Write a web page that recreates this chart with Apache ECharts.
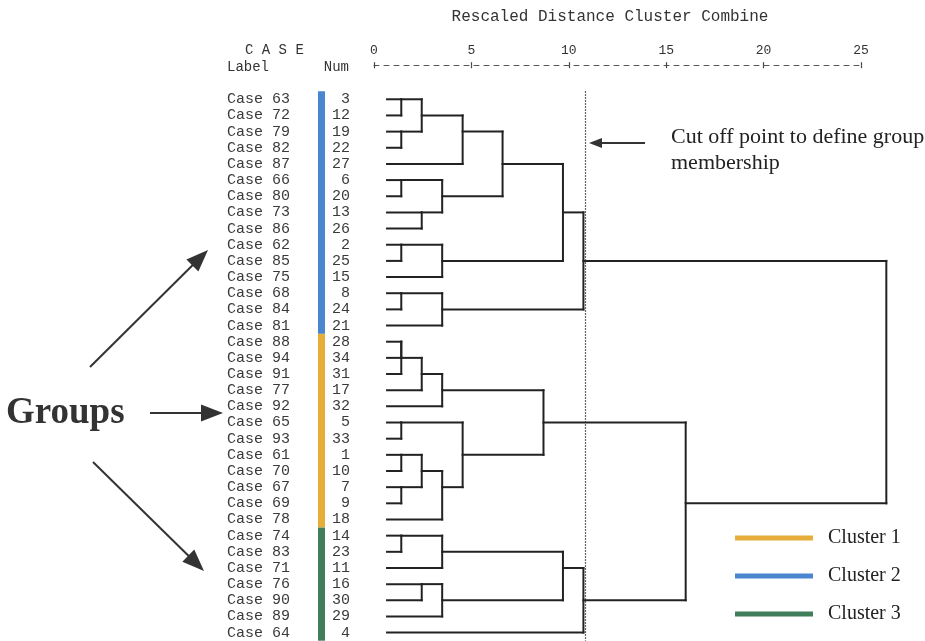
<!DOCTYPE html>
<html><head><meta charset="utf-8">
<script src="https://cdn.jsdelivr.net/npm/echarts@6/dist/echarts.min.js"></script>
<style>html,body{margin:0;padding:0;background:#fff}#c{width:925px;height:641px}</style>
</head><body><div id="c"></div>
<script>
// ---------- data ----------
const caseLabels = ['Case 63','Case 72','Case 79','Case 82','Case 87','Case 66','Case 80','Case 73','Case 86','Case 62','Case 85','Case 75','Case 68','Case 84','Case 81',
  'Case 88','Case 94','Case 91','Case 77','Case 92','Case 65','Case 93','Case 61','Case 70','Case 67','Case 69','Case 78',
  'Case 74','Case 83','Case 71','Case 76','Case 90','Case 89','Case 64'];
const caseNums = ['3','12','19','22','27','6','20','13','26','2','25','15','8','24','21',
  '28','34','31','17','32','5','33','1','10','7','9','18',
  '14','23','11','16','30','29','4'];
const clusterNames = ['Cluster 1','Cluster 2','Cluster 3'];
const clusterColors = ['#e6ad3a','#4a86cf','#3f7e59'];
const clusterFirstRow = [15, 0, 27];
const clusterLastRow = [26, 14, 33];
// merges: [childA, childB, rescaled distance]; leaves are row indices 0..33, merge k creates node 34+k
const merges = [
  [0,1,1.4],[2,3,1.4],[34,35,2.45],[36,4,4.55],[5,6,1.4],[7,8,2.45],[38,39,3.5],[37,40,6.6],
  [9,10,1.4],[42,11,3.5],[41,43,9.7],[12,13,1.4],[45,14,3.5],[44,46,10.75],
  [15,16,1.4],[48,17,1.4],[49,18,2.45],[50,19,3.5],[20,21,1.4],[22,23,1.4],[24,25,1.4],[53,54,2.45],
  [55,26,3.5],[52,56,4.55],[51,57,8.7],
  [27,28,1.4],[59,29,3.5],[30,31,2.45],[61,32,3.5],[60,62,9.7],[63,33,10.75],
  [58,64,16.0],[47,65,26.3]
];
const leafStart = 0.67;
const cutOff = 10.83;
const tickValues = [0,5,10,15,20,25];

// ---------- build dendrogram segments ----------
const nLeaf = caseLabels.length;
const pos = [], hgt = [];
for (let i = 0; i < nLeaf; i++) { pos[i] = i; hgt[i] = leafStart; }
const segs = [];
merges.forEach(function (m, k) {
  const a = m[0], b = m[1], d = m[2], id = nLeaf + k;
  segs.push([hgt[a], pos[a], d, pos[a]]);
  segs.push([hgt[b], pos[b], d, pos[b]]);
  segs.push([d, pos[a], d, pos[b]]);
  pos[id] = Math.floor((pos[a] + pos[b]) / 2);
  hgt[id] = d;
});

const mono = 'Liberation Mono';
const serif = 'Liberation Serif';
const ink = '#222';

function arrow(x1, y1, x2, y2, head, w, lw) {
  const ang = Math.atan2(y2 - y1, x2 - x1);
  const bx = x2 - head * Math.cos(ang), by = y2 - head * Math.sin(ang);
  const px = -Math.sin(ang) * w / 2, py = Math.cos(ang) * w / 2;
  return [
    {type: 'line', shape: {x1: x1, y1: y1, x2: bx + 2 * Math.cos(ang), y2: by + 2 * Math.sin(ang)}, style: {stroke: '#333', lineWidth: lw}},
    {type: 'polygon', shape: {points: [[x2, y2], [bx + px, by + py], [bx - px, by - py]]}, style: {fill: '#333'}}
  ];
}

const chart = echarts.init(document.getElementById('c'), null, {renderer: 'canvas'});

const stripSeries = clusterNames.map(function (name, ci) {
  return {
    type: 'custom', name: name, coordinateSystem: 'cartesian2d', clip: false,
    itemStyle: {color: clusterColors[ci]},
    data: [[0, clusterFirstRow[ci], clusterLastRow[ci]]],
    renderItem: function (params, api) {
      const t = api.coord([0, api.value(1)]);
      const b = api.coord([0, api.value(2)]);
      const band = api.size([0, 1])[1];
      return {type: 'rect', shape: {x: t[0] - 56, y: t[1] - band / 2, width: 7, height: b[1] - t[1] + band},
        style: {fill: clusterColors[ci]}};
    }
  };
});

const graphics = [
  {type: 'text', x: 610, y: 17, style: {text: 'Rescaled Distance Cluster Combine', font: '16px "' + mono + '"', fill: '#333', textAlign: 'center', textVerticalAlign: 'middle'}},
  {type: 'text', x: 245, y: 50, style: {text: 'C A S E', font: '14px "' + mono + '"', fill: '#333', textAlign: 'left', textVerticalAlign: 'middle'}},
  {type: 'text', x: 227, y: 67, style: {text: 'Label', font: '14px "' + mono + '"', fill: '#333', textAlign: 'left', textVerticalAlign: 'middle'}},
  {type: 'text', x: 349, y: 67, style: {text: 'Num', font: '14px "' + mono + '"', fill: '#333', textAlign: 'right', textVerticalAlign: 'middle'}},
  {type: 'text', x: 6, y: 413, style: {text: 'Groups', font: 'bold 37px "' + serif + '"', fill: '#333', textAlign: 'left', textVerticalAlign: 'middle'}},
  {type: 'text', x: 671, y: 137, style: {text: 'Cut off point to define group', font: '22px "' + serif + '"', fill: '#222', textAlign: 'left', textVerticalAlign: 'middle'}},
  {type: 'text', x: 671, y: 163, style: {text: 'membership', font: '22px "' + serif + '"', fill: '#222', textAlign: 'left', textVerticalAlign: 'middle'}}
].concat(arrow(90, 367, 208, 250, 22, 17, 2))
 .concat(arrow(150, 413, 223, 413, 22, 17, 2))
 .concat(arrow(93, 462, 204, 571, 22, 17, 2))
 .concat(arrow(645, 143, 589, 143, 13, 10, 2));

chart.setOption({
  animation: false,
  backgroundColor: '#fff',
  grid: {left: 374, top: 91.2, width: 487, height: 549.5},
  legend: {
    data: clusterNames, orient: 'vertical', left: 730, top: 523, itemGap: 18,
    icon: 'rect', itemWidth: 78, itemHeight: 5, selectedMode: false,
    textStyle: {fontFamily: serif, fontSize: 20, color: '#222', padding: [0, 0, 0, 10]}
  },
  xAxis: [
    {type: 'value', min: 0, max: 25, interval: 5, position: 'top', offset: 26,
      axisLine: {show: true, lineStyle: {color: '#555', width: 1, type: [5, 5]}},
      axisTick: {show: true, inside: false, length: 3, lineStyle: {color: '#444', width: 1.2}},
      axisLabel: {show: true, margin: 8, fontFamily: mono, fontSize: 13, color: '#333'},
      splitLine: {show: false}},
    {type: 'value', min: 0, max: 25, interval: 5, position: 'top', offset: 26,
      axisLine: {show: false},
      axisTick: {show: true, inside: true, length: 3, lineStyle: {color: '#444', width: 1.2}},
      axisLabel: {show: false}, splitLine: {show: false}}
  ],
  yAxis: [
    {type: 'category', data: caseLabels, inverse: true, position: 'left',
      axisLine: {show: false}, axisTick: {show: false}, splitLine: {show: false},
      axisLabel: {interval: 0, margin: 147, align: 'left', fontFamily: mono, fontSize: 15, color: '#3a3a3a', padding: [0, 0, 3, 0]}},
    {type: 'category', data: caseNums, inverse: true, position: 'left', offset: 0,
      axisLine: {show: false}, axisTick: {show: false}, splitLine: {show: false},
      axisLabel: {interval: 0, margin: 24, align: 'right', fontFamily: mono, fontSize: 15, color: '#3a3a3a', padding: [0, 0, 3, 0]}}
  ],
  series: [
    {type: 'custom', name: 'dendrogram', coordinateSystem: 'cartesian2d', clip: false,
      encode: {x: [0, 2], y: [1, 3]},
      data: segs,
      renderItem: function (params, api) {
        const p1 = api.coord([api.value(0), api.value(1)]);
        const p2 = api.coord([api.value(2), api.value(3)]);
        return {type: 'line', shape: {x1: p1[0], y1: p1[1], x2: p2[0], y2: p2[1]},
          style: {stroke: ink, lineWidth: 2, lineCap: 'square'}};
      },
      markLine: {silent: true, symbol: ['none', 'none'], label: {show: false},
        lineStyle: {type: [1.5, 1.5], color: '#333', width: 1.2},
        data: [{xAxis: cutOff}]}
    }
  ].concat(stripSeries),
  graphic: graphics
});
</script></body></html>
